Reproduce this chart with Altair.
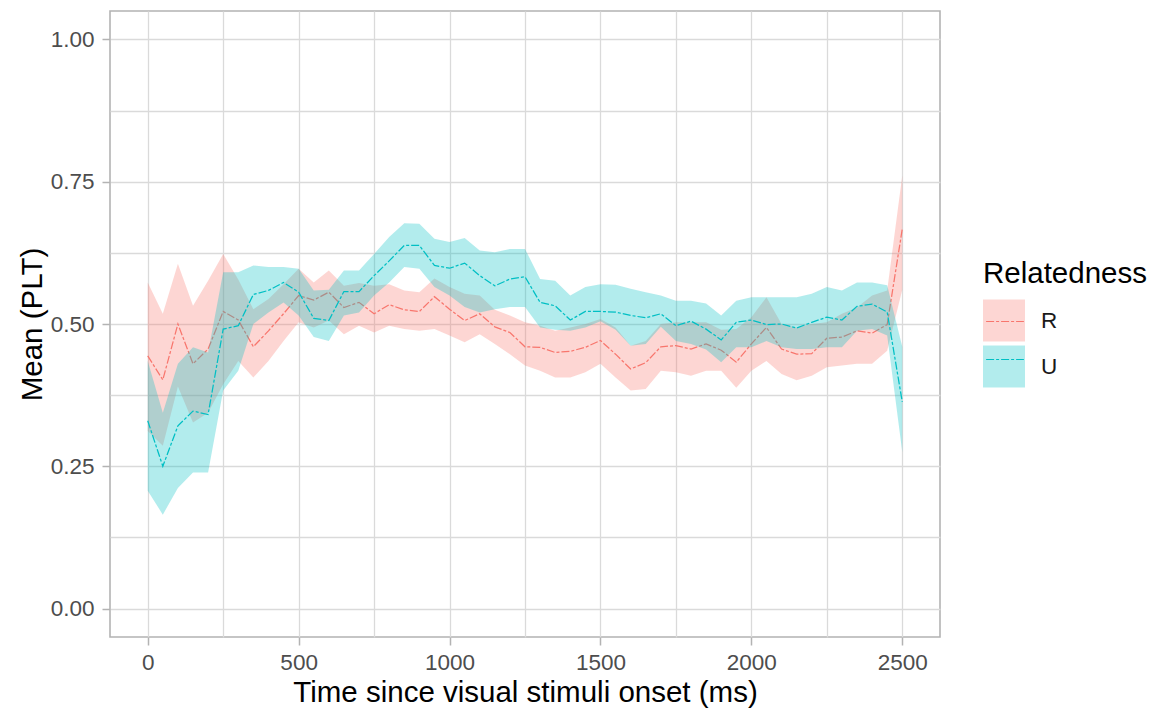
import altair as alt
import pandas as pd

time_ms = list(range(0, 2501, 50))
groups = ["R", "U"]
colors = ["#F8766D", "#00BFC4"]

r_mean = [0.444, 0.402, 0.500, 0.430, 0.456, 0.522, 0.507, 0.460, 0.488, 0.518,
          0.550, 0.542, 0.556, 0.529, 0.538, 0.518, 0.534, 0.525, 0.522, 0.548,
          0.526, 0.506, 0.518, 0.495, 0.485, 0.460, 0.459, 0.450, 0.452, 0.459,
          0.471, 0.447, 0.421, 0.432, 0.460, 0.462, 0.456, 0.465, 0.454, 0.433,
          0.465, 0.494, 0.456, 0.447, 0.448, 0.475, 0.477, 0.488, 0.484, 0.499,
          0.667]
r_hi = [0.573, 0.518, 0.606, 0.532, 0.576, 0.623, 0.578, 0.526, 0.544, 0.570,
        0.597, 0.573, 0.594, 0.567, 0.572, 0.567, 0.570, 0.559, 0.556, 0.580,
        0.565, 0.553, 0.550, 0.525, 0.515, 0.503, 0.497, 0.488, 0.494, 0.500,
        0.509, 0.494, 0.462, 0.470, 0.500, 0.503, 0.503, 0.503, 0.490, 0.491,
        0.512, 0.547, 0.500, 0.494, 0.500, 0.503, 0.518, 0.529, 0.550, 0.559,
        0.761]
r_lo = [0.312, 0.286, 0.390, 0.327, 0.344, 0.394, 0.435, 0.406, 0.435, 0.470,
        0.503, 0.494, 0.506, 0.482, 0.497, 0.485, 0.497, 0.491, 0.488, 0.491,
        0.480, 0.468, 0.482, 0.465, 0.447, 0.427, 0.418, 0.406, 0.406, 0.415,
        0.430, 0.406, 0.383, 0.386, 0.418, 0.415, 0.409, 0.418, 0.418, 0.388,
        0.418, 0.435, 0.412, 0.401, 0.409, 0.424, 0.427, 0.430, 0.430, 0.453,
        0.560]
u_mean = [0.330, 0.250, 0.321, 0.347, 0.341, 0.491, 0.497, 0.552, 0.559, 0.573,
          0.556, 0.510, 0.506, 0.557, 0.557, 0.585, 0.611, 0.638, 0.638, 0.603,
          0.598, 0.607, 0.585, 0.567, 0.579, 0.583, 0.538, 0.532, 0.507, 0.522,
          0.522, 0.521, 0.515, 0.511, 0.518, 0.497, 0.505, 0.491, 0.472, 0.503,
          0.507, 0.499, 0.500, 0.493, 0.503, 0.512, 0.507, 0.531, 0.535, 0.521,
          0.363]
u_hi = [0.435, 0.344, 0.430, 0.459, 0.450, 0.591, 0.591, 0.603, 0.600, 0.600,
        0.597, 0.559, 0.560, 0.594, 0.594, 0.623, 0.653, 0.677, 0.676, 0.650,
        0.644, 0.651, 0.629, 0.626, 0.632, 0.632, 0.579, 0.576, 0.550, 0.565,
        0.570, 0.569, 0.562, 0.556, 0.550, 0.541, 0.541, 0.536, 0.515, 0.541,
        0.547, 0.547, 0.547, 0.547, 0.553, 0.565, 0.559, 0.573, 0.573, 0.568,
        0.460]
u_lo = [0.207, 0.165, 0.212, 0.239, 0.239, 0.383, 0.418, 0.500, 0.520, 0.538,
        0.515, 0.477, 0.470, 0.515, 0.520, 0.550, 0.573, 0.600, 0.597, 0.565,
        0.550, 0.530, 0.520, 0.526, 0.530, 0.530, 0.494, 0.490, 0.488, 0.494,
        0.505, 0.490, 0.462, 0.465, 0.495, 0.470, 0.465, 0.455, 0.433, 0.459,
        0.459, 0.470, 0.459, 0.456, 0.456, 0.459, 0.459, 0.488, 0.491, 0.480,
        0.275]

x_ticks = list(range(0, 2501, 250))
y_ticks = [0, 0.125, 0.25, 0.375, 0.5, 0.625, 0.75, 0.875, 1.0]

rows = []
for g, m, lo, hi in [("R", r_mean, r_lo, r_hi), ("U", u_mean, u_lo, u_hi)]:
    for t, a, b, c in zip(time_ms, m, lo, hi):
        rows.append({"time": t, "Relatedness": g, "mean": a, "lo": b, "hi": c})
df = pd.DataFrame(rows)

FONT = "Liberation Sans"
TITLE_SIZE = 29.5
LABEL_SIZE = 22.5
DASH = [8, 2, 3, 2]

x_axis = alt.Axis(
    title="Time since visual stimuli onset (ms)",
    values=x_ticks,
    format="d",
    labelExpr="datum.value % 500 === 0 ? datum.label : ''",
    tickOpacity={"condition": {"test": "datum.value % 500 === 0", "value": 1}, "value": 0},
    labelPadding=6,
    titlePadding=5,
    labelFlush=False,
    labelOverlap=False,
)
y_axis = alt.Axis(
    title="Mean (PLT)",
    values=y_ticks,
    format=".2f",
    labelExpr="datum.value % 0.25 === 0 ? datum.label : ''",
    tickOpacity={"condition": {"test": "datum.value % 0.25 === 0", "value": 1}, "value": 0},
    labelPadding=8,
    titlePadding=3,
    labelFlush=False,
    labelOverlap=False,
)
x_scale = alt.Scale(domain=[-125, 2625], nice=False, zero=False)
y_scale = alt.Scale(domain=[-0.05, 1.05], nice=False, zero=False)

fill_legend = alt.Legend(
    title="Relatedness", orient="none", legendX=873, legendY=249, padding=0,
    symbolType="square", symbolSize=1764, symbolOpacity=0.3, symbolStrokeWidth=0,
    titleFont=FONT, titleFontSize=TITLE_SIZE, titleFontWeight="normal", titleColor="#000000",
    titlePadding=10, titleLimit=400,
    labelFont=FONT, labelFontSize=LABEL_SIZE, labelColor="#1A1A1A", labelOffset=16,
    rowPadding=4,
)
stroke_legend = alt.Legend(
    title="Relatedness", orient="none", legendX=873, legendY=249, padding=0,
    symbolType="M-0.9,0H0.9", symbolSize=1764, symbolStrokeWidth=1.2,
    symbolDash=DASH, symbolOpacity=1,
    titleFont=FONT, titleFontSize=TITLE_SIZE, titleFontWeight="normal", titleOpacity=0,
    titlePadding=10, titleLimit=400,
    labelFont=FONT, labelFontSize=LABEL_SIZE, labelExpr="''", labelOffset=16,
    rowPadding=4,
)

fill_scale = alt.Scale(domain=groups, range=colors)
stroke_scale = alt.Scale(range=colors)

base = alt.Chart(df)


def band(g):
    return base.transform_filter(alt.datum.Relatedness == g).mark_area(opacity=0.3).encode(
        x=alt.X("time:Q", scale=x_scale, axis=x_axis),
        y=alt.Y("lo:Q", scale=y_scale, axis=y_axis),
        y2="hi:Q",
        fill=alt.Fill("Relatedness:N", scale=fill_scale, legend=fill_legend),
    )


def line(g):
    return base.transform_filter(alt.datum.Relatedness == g).transform_calculate(
        Rel2="datum.Relatedness"
    ).mark_line(strokeWidth=1.25, strokeDash=DASH).encode(
        x=alt.X("time:Q", scale=x_scale, axis=x_axis),
        y=alt.Y("mean:Q", scale=y_scale, axis=y_axis),
        stroke=alt.Stroke("Rel2:N", scale=stroke_scale, legend=stroke_legend),
    )


chart = alt.layer(band("R"), line("R"), band("U"), line("U")).properties(
    width=830,
    height=626,
    autosize=alt.AutoSizeParams(type="none"),
    padding={"left": 102, "top": 3, "right": 211, "bottom": 81},
    background="white",
).configure_view(
    stroke="#B3B3B3", strokeWidth=1.6
).configure_axis(
    domain=False,
    grid=True,
    gridColor="#DADADA",
    gridWidth=1.3,
    tickColor="#B3B3B3",
    tickWidth=1.5,
    tickSize=8,
    labelColor="#4D4D4D",
    labelFont=FONT,
    labelFontSize=LABEL_SIZE,
    titleFont=FONT,
    titleFontSize=TITLE_SIZE,
    titleColor="#000000",
    titleFontWeight="normal",
)

chart.save("out.html", embed_options={"renderer": "svg", "actions": False})
